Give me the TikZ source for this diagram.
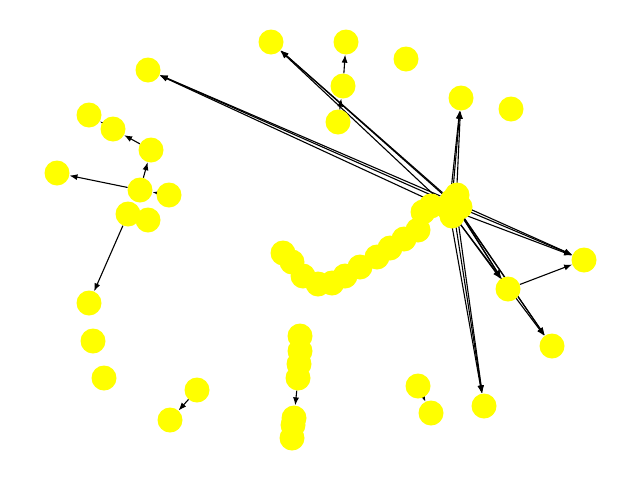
\documentclass[tikz,border=0pt]{standalone}
\usetikzlibrary{arrows.meta,backgrounds}
\definecolor{nodeyellow}{RGB}{255,255,0}
\tikzset{
  nd/.style={circle,fill=nodeyellow,minimum size=25pt,inner sep=0pt},
  ed/.style={line width=1.1pt,-{Latex[length=8pt,width=6pt]}}
}
\begin{document}
\begin{tikzpicture}[x=1pt,y=-1pt]
\useasboundingbox (0,0) rectangle (640,480);
% left cluster
\node[nd] (a1) at (89,115) {};
\node[nd] (a2) at (113,129) {};
\node[nd] (a3) at (151,150) {};
\node[nd] (a4) at (57,173) {};
\node[nd] (a5) at (140,190) {};
\node[nd] (a6) at (169,195) {};
\node[nd] (a7) at (128,214) {};
\node[nd] (a8) at (148,220) {};
\node[nd] (a9) at (89,303) {};
\node[nd] (a10) at (93,341) {};
\node[nd] (a11) at (104,378) {};
\node[nd] (a12) at (197,390) {};
\node[nd] (a13) at (170,420) {};
% top
\node[nd] (t1) at (271,42) {};
\node[nd] (t2) at (346,42) {};
\node[nd] (t3) at (343,86) {};
\node[nd] (t4) at (338,122) {};
\node[nd] (t5) at (406,59) {};
\node[nd] (t6) at (148,70) {};
\node[nd] (t7) at (461,98) {};
\node[nd] (t8) at (511,109) {};
% right
\node[nd] (r1) at (584,260) {};
\node[nd] (r2) at (508,289) {};
\node[nd] (r3) at (552,346) {};
\node[nd] (r4) at (484,406) {};
\node[nd] (r5) at (418,386) {};
\node[nd] (r6) at (431,413) {};
% bottom chain
\node[nd] (b1) at (300,336) {};
\node[nd] (b2) at (300,351) {};
\node[nd] (b3) at (299,364) {};
\node[nd] (b4) at (298,378) {};
\node[nd] (b5) at (294,418) {};
\node[nd] (b6) at (293,425) {};
\node[nd] (b7) at (292,438) {};
% hub chain
\node[nd] (c1) at (283,253) {};
\node[nd] (c2) at (292,262) {};
\node[nd] (c3) at (303,276) {};
\node[nd] (c4) at (318,284) {};
\node[nd] (c5) at (332,283) {};
\node[nd] (c6) at (345,276) {};
\node[nd] (c7) at (360,267) {};
\node[nd] (c8) at (377,257) {};
\node[nd] (c9) at (390,248) {};
\node[nd] (c10) at (404,239) {};
\node[nd] (c11) at (418,230) {};
\node[nd] (c12) at (423,212) {};
\node[nd] (c13) at (431,206) {};
\node[nd] (c14) at (457,195) {};
\node[nd] (c15) at (460,207) {};
\node[nd] (c16) at (452,216) {};
\node[nd] (h1) at (452,201) {};
\node[nd] (h2) at (456,206) {};
\node[nd] (h3) at (449,209) {};
\begin{scope}[on background layer]
\draw[ed] (a2) -- (a1);
\draw[ed] (a3) -- (a2);
\draw[ed] (a5) -- (a3);
\draw[ed] (a5) -- (a4);
\draw[ed] (a6) -- (a5);
\draw[ed] (a7) -- (a9);
\draw[ed] (a12) -- (a13);
\draw[ed] (t3) -- (t2);
\draw[ed] (t4) -- (t3);
\draw[ed] (r2) -- (r1);
\draw[ed] (r5) -- (r6);
\draw[ed] (b4) -- (b5);
\foreach \s in {h1,h2,h3} {
  \draw[ed] (\s) -- (t7);
  \draw[ed] (\s) -- (r1);
  \draw[ed] (\s) -- (r2);
  \draw[ed] (\s) -- (r3);
  \draw[ed] (\s) -- (r4);
  \draw[ed] (\s) -- (t1);
  \draw[ed] (\s) -- (t6);
}
\end{scope}
\end{tikzpicture}
\end{document}
